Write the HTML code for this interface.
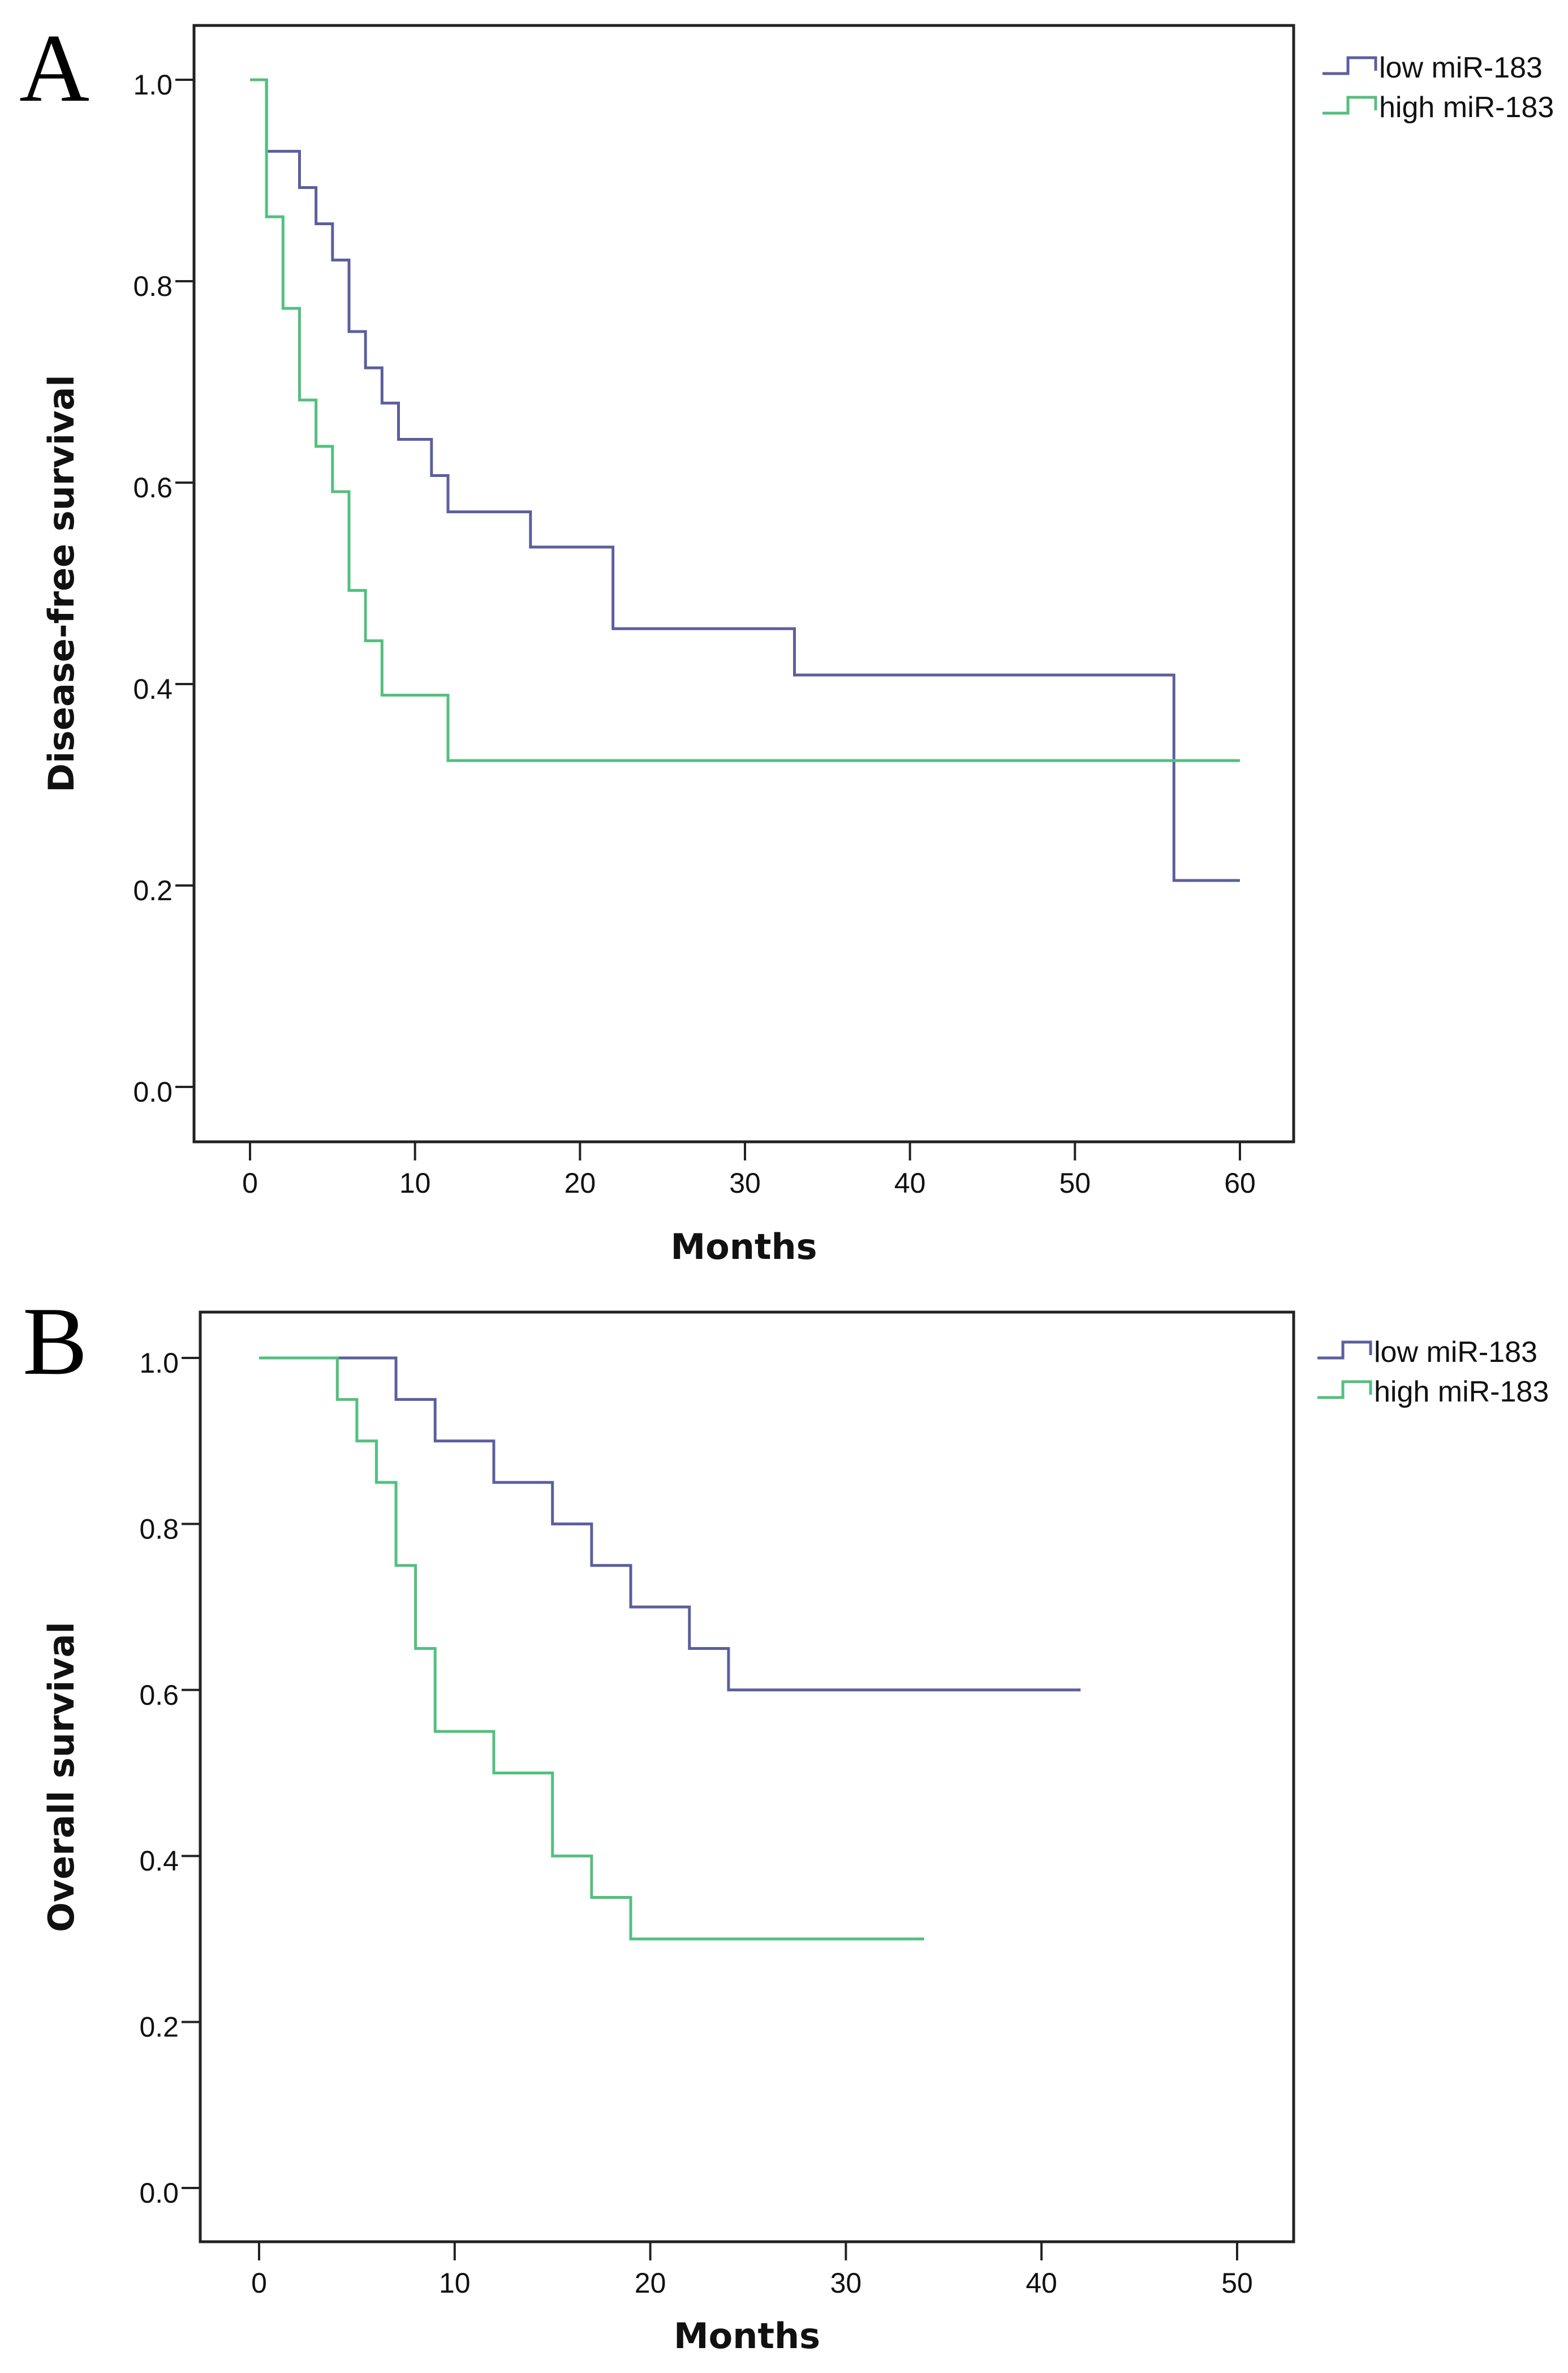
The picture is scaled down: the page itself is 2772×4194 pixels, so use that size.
<!DOCTYPE html>
<html><head><meta charset="utf-8"><style>
html,body{margin:0;padding:0;background:#fff;}
svg{display:block;}
</style></head><body>
<svg id="fig" xmlns="http://www.w3.org/2000/svg" width="2772" height="4194" viewBox="0 0 2772 4194">
<rect width="2772" height="4194" fill="#fff"/>
</svg>
<script>
// Panel A data (Disease-free survival)
const aLowTimes = [0,1,3,4,5,6,7,8,9,11,12,17,22,33,56,60];
const aLowSurv  = [1.0,0.929,0.893,0.857,0.821,0.75,0.714,0.679,0.643,0.607,0.571,0.536,0.455,0.409,0.205,0.205];
const aHighTimes = [0,1,2,3,4,5,6,7,8,12,60];
const aHighSurv  = [1.0,0.864,0.773,0.682,0.636,0.591,0.493,0.443,0.389,0.324,0.324];
const aXTicks = [0,10,20,30,40,50,60];
const aYTicks = [0.0,0.2,0.4,0.6,0.8,1.0];
// Panel B data (Overall survival)
const bLowTimes = [0,7,9,12,15,17,19,22,24,42];
const bLowSurv  = [1.0,0.95,0.9,0.85,0.8,0.75,0.7,0.65,0.6,0.6];
const bHighTimes = [0,4,5,6,7,8,9,12,15,17,19,34];
const bHighSurv  = [1.0,0.95,0.9,0.85,0.75,0.65,0.55,0.5,0.4,0.35,0.3,0.3];
const bXTicks = [0,10,20,30,40,50];
const bYTicks = [0.0,0.2,0.4,0.6,0.8,1.0];
const seriesNames = ["low miR-183","high miR-183"];

const NS="http://www.w3.org/2000/svg";
const svg=document.getElementById('fig');
function mk(tag,attrs,parent){const e=document.createElementNS(NS,tag);for(const k in attrs)e.setAttribute(k,attrs[k]);(parent||svg).appendChild(e);return e;}
const BLUE="#5b5f9e", GREEN="#52c07e";

function panel(cfg){
  const g=mk('g',{});
  
  
  const xs=v=>cfg.x0+(v-cfg.xmin)*(cfg.x1-cfg.x0)/(cfg.xmax-cfg.xmin);
  const ys=v=>cfg.y0+(v)*(cfg.y1-cfg.y0);
  const L=mk('text',{x:cfg.lx,y:cfg.ly,'font-family':'Liberation Serif, serif','font-size':172,fill:'#000'},g);
  L.textContent=cfg.letter;
  
  
  const box=mk('rect',{x:cfg.bl,y:cfg.bt,width:cfg.br-cfg.bl,height:cfg.bb-cfg.bt,fill:'none',stroke:'#222','stroke-width':5},g);
  
  
  cfg.yt.forEach(v=>{
    const y=ys(v);
    const t=mk('line',{x1:cfg.bl-33,x2:cfg.bl,y1:y,y2:y,stroke:'#222','stroke-width':4},g);
    
    
    const tx=mk('text',{x:cfg.bl-38,y:y+26,'text-anchor':'end','font-family':'Liberation Sans, sans-serif','font-size':50,fill:'#111'},g);
    tx.textContent=v.toFixed(1);
    
    
  });
  cfg.xt.forEach(v=>{
    const x=xs(v);
    const t=mk('line',{x1:x,x2:x,y1:cfg.bb,y2:cfg.bb+33,stroke:'#222','stroke-width':4},g);
    
    
    const tx=mk('text',{x:x,y:cfg.bb+90,'text-anchor':'middle','font-family':'Liberation Sans, sans-serif','font-size':50,fill:'#111'},g);
    tx.textContent=String(v);
    
    
  });
  const xt=mk('text',{x:(cfg.bl+cfg.br)/2,y:cfg.xty,'text-anchor':'middle','font-family':'DejaVu Sans, sans-serif','font-weight':'bold','font-size':62,fill:'#111'},g);
  xt.textContent='Months';
  
  
  const yt=mk('text',{x:0,y:0,'text-anchor':'middle','font-family':'DejaVu Sans, sans-serif','font-weight':'bold','font-size':62,fill:'#111',transform:`translate(${cfg.ytx},${(cfg.bt+cfg.bb)/2}) rotate(-90)`},g);
  yt.textContent=cfg.ytitle;
  
  
  function step(times,surv,color,name){
    let d=`M${xs(times[0])},${ys(surv[0])}`;
    for(let i=1;i<times.length;i++){d+=` H${xs(times[i])} V${ys(surv[i])}`;}
    const p=mk('path',{d:d,fill:'none',stroke:color,'stroke-width':5},g);
    
    
  }
  step(cfg.lowT,cfg.lowS,BLUE,'low-mir183-curve');
  step(cfg.highT,cfg.highS,GREEN,'high-mir183-curve');
  [BLUE,GREEN].forEach((c,i)=>{
    const yy=cfg.legy+i*70;
    const lg=mk('g',{},g);
    
    
    mk('path',{d:`M${cfg.legx},${yy} H${cfg.legx+45} V${yy-28} H${cfg.legx+94} V${yy-5}`,fill:'none',stroke:c,'stroke-width':5},lg);
    const t=mk('text',{x:cfg.legx+100,y:yy+7,'font-family':'Liberation Sans, sans-serif','font-size':52,fill:'#111'},lg);
    t.textContent=seriesNames[i];
  });
}
panel({id:'a',letter:'A',lx:34,ly:178,bl:343,br:2287,bt:45,bb:2018,
  x0:442,x1:2192,xmin:0,xmax:60,y0:1921,y1:141,xt:aXTicks,yt:aYTicks,
  xty:2225,ytx:130,ytitle:'Disease-free survival',lowT:aLowTimes,lowS:aLowSurv,highT:aHighTimes,highS:aHighSurv,legx:2338,legy:130});
panel({id:'b',letter:'B',lx:40,ly:2428,bl:354,br:2287,bt:2319,bb:3962,
  x0:458,x1:2187,xmin:0,xmax:50,y0:3867,y1:2400,xt:bXTicks,yt:bYTicks,
  xty:4150,ytx:130,ytitle:'Overall survival',lowT:bLowTimes,lowS:bLowSurv,highT:bHighTimes,highS:bHighSurv,legx:2329,legy:2400});
</script>
</body></html>
